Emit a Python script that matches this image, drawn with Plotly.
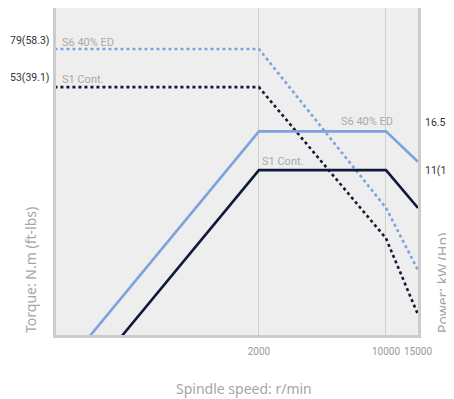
import math
import plotly.graph_objects as go

# ---- data ----
speed_torque = [150, 2000, 10000, 15000]
torque_s6 = [79, 79, 15.0, 7.8]
torque_s1 = [53, 53, 10.9, 4.9]

speed_power_s6 = [200, 2000, 10000, 15000]
power_s6 = [1.65, 16.5, 16.5, 12.0]
speed_power_s1 = [300, 2000, 10000, 15000]
power_s1 = [1.65, 11, 11, 7.4]

x_ticks = [2000, 10000, 15000]
x_tick_labels = ["2000", "10000", "15000"]

torque_labels = ["79(58.3)", "53(39.1)"]
torque_label_vals = [79, 53]
power_labels = ["16.5(22.1)", "11(14.8)"]
power_label_vals = [16.5, 11]

series_names = ["S6 40% ED", "S1 Cont."]

LIGHT = "#7ba3dc"
DARK = "#0f1a38"
NARROW = "Roboto, Liberation Sans Narrow, sans-serif"
SANS = "Noto Sans, Open Sans, sans-serif"

fig = go.Figure()

fig.add_trace(go.Scatter(x=speed_torque, y=torque_s6, mode="lines", yaxis="y",
                         line=dict(color=LIGHT, width=2.6, dash="dot"), showlegend=False))
fig.add_trace(go.Scatter(x=speed_torque, y=torque_s1, mode="lines", yaxis="y",
                         line=dict(color=DARK, width=2.6, dash="dot"), showlegend=False))
fig.add_trace(go.Scatter(x=speed_power_s6, y=power_s6, mode="lines", yaxis="y2",
                         line=dict(color=LIGHT, width=2.6), showlegend=False))
fig.add_trace(go.Scatter(x=speed_power_s1, y=power_s1, mode="lines", yaxis="y2",
                         line=dict(color=DARK, width=2.6), showlegend=False))

ann = []
# left value labels (torque)
for txt, v, ys in zip(torque_labels, torque_label_vals, [9, 10]):
    ann.append(dict(xref="paper", x=0, xanchor="right", xshift=-4, yref="y", y=math.log10(v),
                    yshift=ys, yanchor="middle", text=txt, showarrow=False,
                    font=dict(family=NARROW, size=10.5, color="#333333")))
# right value labels (power)
for txt, v, ys in zip(power_labels, power_label_vals, [9, 0]):
    ann.append(dict(xref="paper", x=1, xanchor="left", xshift=5, yref="y2", y=math.log10(v),
                    yshift=ys, yanchor="middle", text=txt, showarrow=False,
                    font=dict(family=NARROW, size=10.5, color="#333333")))
# series name labels on torque curves
for txt, v, ys in zip(series_names, torque_label_vals, [7, 8]):
    ann.append(dict(xref="paper", x=0, xanchor="left", xshift=4, yref="y", y=math.log10(v),
                    yshift=ys, yanchor="middle", text=txt, showarrow=False,
                    font=dict(family=NARROW, size=11, color="#aaaaaa")))
# series name labels on power curves
ann.append(dict(xref="x", x=math.log10(10000), xanchor="right", xshift=9, yref="y2",
                y=math.log10(16.5), yshift=10, yanchor="middle", text=series_names[0],
                showarrow=False, font=dict(family=NARROW, size=11, color="#aaaaaa")))
ann.append(dict(xref="x", x=math.log10(2000), xanchor="left", xshift=1, yref="y2",
                y=math.log10(11), yshift=9, yanchor="middle", text=series_names[1],
                showarrow=False, font=dict(family=NARROW, size=11, color="#aaaaaa")))
# axis titles
ann.append(dict(xref="paper", x=0, xshift=-26, xanchor="center", yref="paper", y=0, yanchor="bottom",
                text="Torque: N.m (ft-lbs)", textangle=-90, showarrow=False,
                font=dict(family=SANS, size=14, color="#a6a6a6")))
ann.append(dict(xref="paper", x=1, xshift=24, xanchor="center", yref="paper", y=0, yanchor="bottom",
                text="Power: kW (Hp)", textangle=-90, showarrow=False,
                font=dict(family=SANS, size=14, color="#a6a6a6")))
ann.append(dict(xref="paper", x=0.52, xanchor="center", yref="paper", y=0, yshift=-53,
                yanchor="middle", text="Spindle speed: r/min", showarrow=False,
                font=dict(family=SANS, size=14, color="#a6a6a6")))

fig.update_layout(
    width=446, height=391,
    margin=dict(l=48, r=36, t=0, b=64),
    paper_bgcolor="white",
    plot_bgcolor="#eeeeee",
    annotations=ann,
    xaxis=dict(type="log", range=[math.log10(153), math.log10(15000)],
               tickvals=x_ticks, ticktext=x_tick_labels, showgrid=True,
               gridcolor="#cfcfcf", gridwidth=1, zeroline=False,
               showline=True, linecolor="#cccccc", linewidth=3, tickangle=0,
               tickfont=dict(family=NARROW, size=10, color="#999999"),
               ticks="outside", ticklen=5, tickcolor="rgba(0,0,0,0)"),
    yaxis=dict(type="log", range=[0.598, 2.084], showgrid=False, zeroline=False,
               showticklabels=False, ticks="", showline=True, linecolor="#cccccc", linewidth=3),
    yaxis2=dict(type="log", range=[0.292, 1.778], overlaying="y", side="right",
                showgrid=False, zeroline=False, showticklabels=False, ticks="",
                showline=True, linecolor="#cccccc", linewidth=3),
)

fig.write_html("out.html")
